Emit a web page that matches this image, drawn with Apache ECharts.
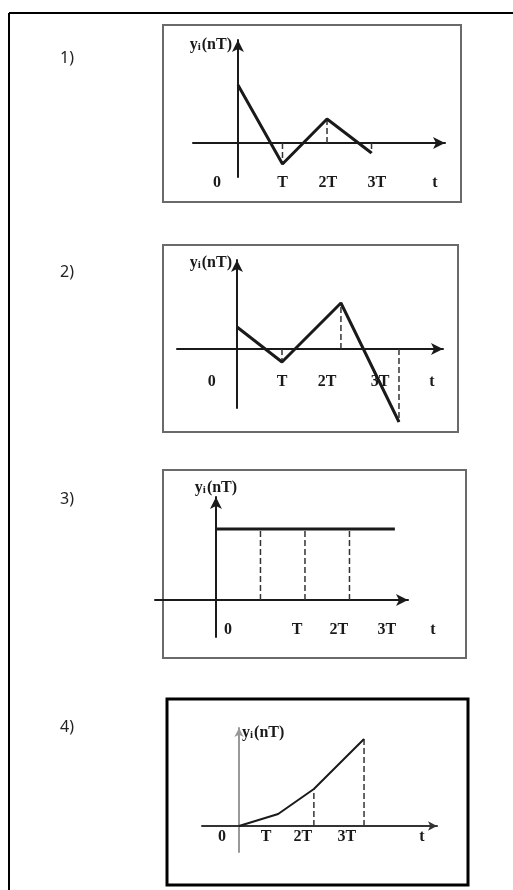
<!DOCTYPE html>
<html>
<head>
<meta charset="UTF-8">
<title>yi(nT)</title>
<script src="https://cdn.jsdelivr.net/npm/echarts@6.0.0/dist/echarts.min.js"></script>
<style>
    html, body { margin: 0; padding: 0; background: #fff; }
    #main { width: 513px; height: 890px; }
</style>
</head>
<body>
<div id="main"></div>
<script type="text/javascript">
    // tick label texts (same in all four plots)
    var tickNames = ['0', 'T', '2T', '3T'];

    // 1)
    var x1 = [0, 1, 2, 3];
    var y1 = [2.9, -1.05, 1.2, -0.5];
    var stems1 = [1, 2, 3];
    var ticks1 = [-0.47, 1, 2.02, 3.12];

    // 2)
    var x2 = [0, 1, 2.31, 3.6];
    var y2 = [1.1, -0.65, 2.3, -3.65];
    var stems2 = [1, 2, 3];
    var ticks2 = [-0.56, 1, 2, 3.18];

    // 3)
    var x3 = [0, 1, 2, 3, 4.02];
    var y3 = [3.55, 3.55, 3.55, 3.55, 3.55];
    var stems3 = [1, 2, 3];
    var ticks3 = [0.27, 1.82, 2.76, 3.84];

    // 4)
    var x4 = [0, 1.03, 1.97, 3.29];
    var y4 = [0, 0.6, 1.85, 4.35];
    var stems4 = [2, 3];
    var ticks4 = [-0.45, 0.71, 1.68, 2.84];

    var serif = 'Liberation Serif';
    var ink = '#1a1a1a';

    // layout of each plot (grid in px, axis ranges, text offsets)
    // margin = px from the x axis line down to the top of the labels
    var panels = [
        { grid: {left: 193, top: 40, width: 252, height: 137}, xr: [-1.01, 4.65], yr: [-1.7, 5.15],
          x: x1, y: y1, stems: stems1, ticks: ticks1, margin: 32, tGap: -10,
          yName: {align: 'right', verticalAlign: 'middle', gap: -5, padding: [0, 6, 0, 0]},
          fs: 16, axisColor: ink, yAxisColor: ink, lw: 3, axisW: 2, arrow: [9, 12] },
        { grid: {left: 177, top: 260, width: 266, height: 148}, xr: [-1.333, 4.578], yr: [-2.95, 4.45],
          x: x2, y: y2, stems: stems2, ticks: ticks2, margin: 25, tGap: -11,
          yName: {align: 'right', verticalAlign: 'middle', gap: -3, padding: [0, 5, 0, 0]},
          fs: 16, axisColor: ink, yAxisColor: ink, lw: 3, axisW: 2, arrow: [9, 12] },
        { grid: {left: 155, top: 497, width: 253, height: 140}, xr: [-1.37, 4.315], yr: [-1.85, 5.15],
          x: x3, y: y3, stems: stems3, ticks: ticks3, margin: 22, tGap: 25,
          yName: {align: 'center', verticalAlign: 'bottom', gap: 1, padding: [0, 0, 0, 0]},
          fs: 16, axisColor: ink, yAxisColor: ink, lw: 3, axisW: 2, arrow: [9, 12] },
        { grid: {left: 202, top: 728, width: 235, height: 124}, xr: [-0.974, 5.21], yr: [-1.3, 4.9],
          x: x4, y: y4, stems: stems4, ticks: ticks4, margin: 3, tGap: -15,
          yName: {align: 'left', verticalAlign: 'middle', gap: -5, padding: [0, 0, 0, 3]},
          fs: 16, axisColor: '#333', yAxisColor: '#999', lw: 2, axisW: 2, arrow: [7, 9] }
    ];

    var grids = [], xAxes = [], yAxes = [], series = [];

    panels.forEach(function (p, i) {
        grids.push(p.grid);
        var textStyle = {fontFamily: serif, fontSize: p.fs, fontWeight: 'bold', color: ink};
        // labels are laid out from the grid bottom, the axis line sits at y = 0
        var below = p.grid.height * (-p.yr[0]) / (p.yr[1] - p.yr[0]);

        xAxes.push({
            gridIndex: i,
            type: 'value',
            min: p.xr[0],
            max: p.xr[1],
            axisLine: {onZero: true, symbol: ['none', 'arrow'], symbolSize: p.arrow,
                lineStyle: {color: p.axisColor, width: p.axisW}},
            axisTick: {show: false},
            splitLine: {show: false},
            axisLabel: Object.assign({
                customValues: p.ticks,
                margin: p.margin - below,
                formatter: function (v) { return tickNames[p.ticks.indexOf(v)]; }
            }, textStyle),
            name: 't',
            nameLocation: 'end',
            nameGap: p.tGap,
            nameTextStyle: Object.assign({align: 'center', verticalAlign: 'top',
                padding: [p.margin, 0, 0, 0]}, textStyle)
        });

        yAxes.push({
            gridIndex: i,
            type: 'value',
            min: p.yr[0],
            max: p.yr[1],
            axisLine: {onZero: true, symbol: ['none', 'arrow'], symbolSize: p.arrow,
                lineStyle: {color: p.yAxisColor, width: p.axisW}},
            axisTick: {show: false},
            splitLine: {show: false},
            axisLabel: {show: false},
            name: '{y|y}{i|i}{n|(nT)}',
            nameLocation: 'end',
            nameGap: p.yName.gap,
            nameTextStyle: {
                align: p.yName.align,
                verticalAlign: p.yName.verticalAlign,
                padding: p.yName.padding,
                rich: {
                    y: {fontFamily: serif, fontSize: p.fs, fontWeight: 'bold', color: ink},
                    i: {fontFamily: serif, fontSize: p.fs - 5, fontWeight: 'bold', color: ink,
                        verticalAlign: 'bottom', padding: [0, 1, 0, 0]},
                    n: {fontFamily: serif, fontSize: p.fs, fontWeight: 'bold', color: ink}
                }
            }
        });

        // dashed drop lines from the axis to the sample
        p.stems.forEach(function (k) {
            series.push({
                type: 'line',
                xAxisIndex: i,
                yAxisIndex: i,
                data: [[p.x[k], 0], [p.x[k], p.y[k]]],
                symbol: 'none',
                clip: false,
                silent: true,
                lineStyle: {type: 'dashed', color: '#333', width: 1.5}
            });
        });

        series.push({
            type: 'line',
            xAxisIndex: i,
            yAxisIndex: i,
            data: p.x.map(function (v, k) { return [v, p.y[k]]; }),
            symbol: 'none',
            clip: false,
            lineStyle: {color: ink, width: p.lw}
        });
    });

    // frames and plot numbers
    var boxes = [
        {x: 163, y: 25, width: 298, height: 177, c: '#6a6a6a', w: 2},
        {x: 163, y: 245, width: 295, height: 187, c: '#6a6a6a', w: 2},
        {x: 163, y: 470, width: 303, height: 188, c: '#6a6a6a', w: 2},
        {x: 167, y: 699, width: 301, height: 186, c: '#000', w: 3}
    ];
    var numbers = ['1)', '2)', '3)', '4)'];
    var numberY = [58, 272, 499, 727];

    var graphic = [
        {type: 'line', shape: {x1: 9, y1: 13, x2: 513, y2: 13}, style: {stroke: '#000', lineWidth: 2}},
        {type: 'line', shape: {x1: 9, y1: 13, x2: 9, y2: 890}, style: {stroke: '#000', lineWidth: 2}}
    ];
    boxes.forEach(function (b) {
        graphic.push({type: 'rect', shape: {x: b.x, y: b.y, width: b.width, height: b.height},
            style: {fill: 'none', stroke: b.c, lineWidth: b.w}, silent: true});
    });
    numbers.forEach(function (t, k) {
        graphic.push({type: 'text', x: 60, y: numberY[k],
            style: {text: t, fill: '#222', font: '16px "Noto Sans"', textVerticalAlign: 'middle'}});
    });

    var myChart = echarts.init(document.getElementById('main'));
    myChart.setOption({
        animation: false,
        grid: grids,
        xAxis: xAxes,
        yAxis: yAxes,
        series: series,
        graphic: graphic
    });
</script>
</body>
</html>
